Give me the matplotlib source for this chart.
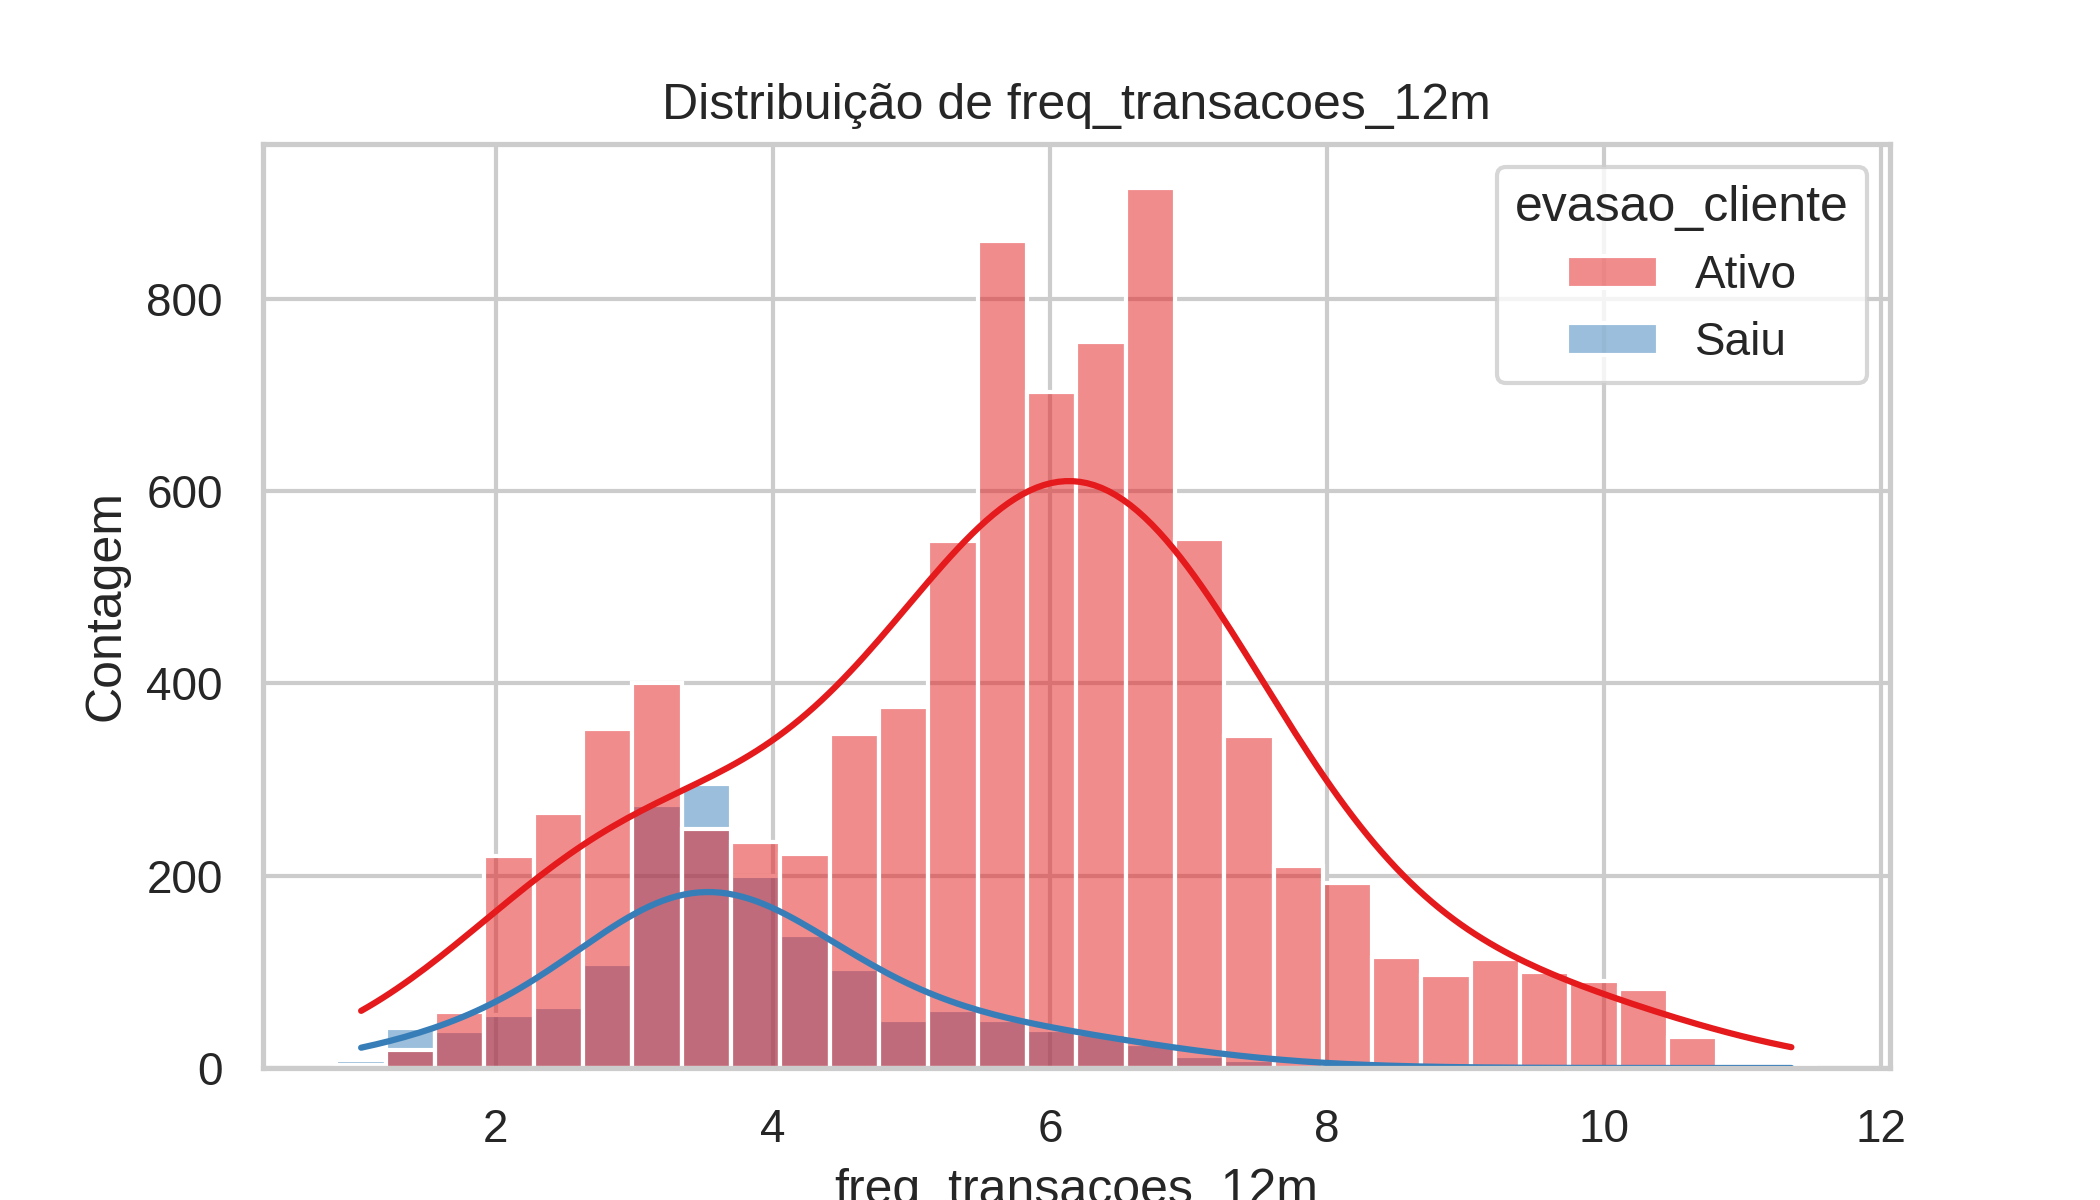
import matplotlib
matplotlib.use("Agg")
import matplotlib.pyplot as plt
import numpy as np
import pandas as pd
import seaborn as sns

# bordas dos bins (30 bins)
bin_start = 0.85
bin_width = 0.356
n_bins = 30

contagem_ativo = [3, 19, 58, 220, 265, 352, 400, 248, 235, 222, 347, 375, 548, 860, 703,
                  755, 915, 550, 345, 210, 192, 115, 97, 113, 100, 90, 82, 32, 5, 3]
contagem_saiu = [8, 42, 38, 55, 63, 108, 273, 295, 200, 138, 103, 50, 60, 50, 40,
                 35, 25, 12, 8, 3, 2, 1, 0, 0, 0, 0, 0, 0, 0, 0]

edges = bin_start + bin_width * np.arange(n_bins + 1)
centros = (edges[:-1] + edges[1:]) / 2

df = pd.DataFrame({
    "freq_transacoes_12m": np.concatenate([centros, centros]),
    "peso": contagem_ativo + contagem_saiu,
    "evasao_cliente": ["Ativo"] * n_bins + ["Saiu"] * n_bins,
})

sns.set_theme(style="whitegrid")
plt.rcParams["font.family"] = ["Liberation Sans", "DejaVu Sans"]

fig, ax = plt.subplots(figsize=(7, 4), dpi=300)
sns.histplot(data=df, x="freq_transacoes_12m", weights="peso", hue="evasao_cliente",
             hue_order=["Ativo", "Saiu"], palette="Set1", bins=n_bins,
             binrange=(float(edges[0]), float(edges[-1])), kde=True,
             kde_kws={"bw_adjust": 0.9}, ax=ax)
ax.set_title("Distribuição de freq_transacoes_12m")
ax.set_ylabel("Contagem")
ax.set_xlabel("freq_transacoes_12m")
fig.savefig("out.png", dpi=300)
